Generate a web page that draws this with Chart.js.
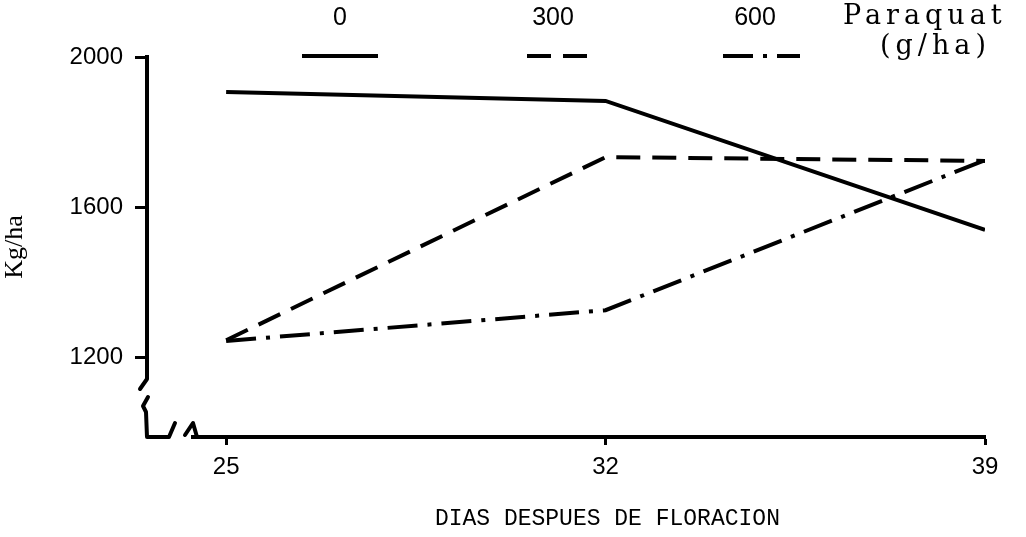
<!DOCTYPE html>
<html>
<head>
<meta charset="utf-8">
<script src="https://cdn.jsdelivr.net/npm/chart.js@4"></script>
<style>
  html, body { margin: 0; padding: 0; background: #fff; }
  #wrap { width: 1026px; height: 537px; }
</style>
</head>
<body>
<div id="wrap"><canvas id="graph"></canvas></div>
<script>
// days after flowering
const dias = [25, 32, 39];
// yield (kg/ha) per paraquat dose
const dose_0 = [1907, 1883, 1539];
const dose_300 = [1245, 1733, 1723];
const dose_600 = [1243, 1325, 1725];
const doseLabels = ["0", "300", "600"];
const yTicks = [1200, 1600, 2000];

const tickFont = { family: "Liberation Sans, sans-serif", size: 24 };
const xTitleFont = { family: "Liberation Mono, monospace", size: 23 };
const yTitleFont = { family: "Liberation Serif, serif", size: 26 };

function toXY(vals) {
    return vals.map((v, i) => ({ x: dias[i], y: v }));
}

// legend drawn above the plot: label on top, line sample below
const legendPlugin = {
    id: 'paraquatLegend',
    afterDraw(chart) {
        const ctx = chart.ctx;
        const items = [
            { cx: 340, x0: 302, x1: 378 },
            { cx: 553, x0: 527, x1: 595 },
            { cx: 755, x0: 723, x1: 800 }
        ];
        ctx.save();
        ctx.fillStyle = "#000";
        ctx.textAlign = "center";
        ctx.textBaseline = "middle";
        items.forEach((it, i) => {
            const ds = chart.data.datasets[i];
            ctx.font = "25px " + tickFont.family;
            ctx.fillText(doseLabels[i], it.cx, 18);
            ctx.strokeStyle = "#000";
            ctx.lineWidth = 4;
            ctx.setLineDash(ds.borderDash || []);
            ctx.beginPath();
            ctx.moveTo(it.x0, 56);
            ctx.lineTo(it.x1, 56);
            ctx.stroke();
        });
        ctx.setLineDash([]);
        ctx.font = "27px DejaVu Serif, serif";
        ctx.letterSpacing = "5px";
        ctx.textAlign = "left";
        ctx.fillText("Paraquat", 843, 17);
        ctx.fillText("(g/ha)", 880, 47);
        ctx.restore();
    }
};

// axis break at the lower left corner
const breakPlugin = {
    id: 'axisBreak',
    afterDraw(chart) {
        const ctx = chart.ctx;
        const l = chart.chartArea.left;
        const b = chart.chartArea.bottom;
        ctx.save();
        ctx.fillStyle = "#fff";
        ctx.fillRect(l - 8, b - 60, 52, 67);
        ctx.strokeStyle = "#000";
        ctx.lineWidth = 4;
        ctx.lineCap = "round";
        ctx.lineJoin = "round";
        ctx.beginPath();
        ctx.moveTo(l, b - 62);
        ctx.lineTo(l, b - 58);
        ctx.lineTo(l - 7, b - 48);
        ctx.stroke();
        ctx.beginPath();
        ctx.moveTo(l + 1, b - 40);
        ctx.lineTo(l - 4, b - 31);
        ctx.lineTo(l - 1, b - 25);
        ctx.lineTo(l, b);
        ctx.lineTo(l + 22, b);
        ctx.lineTo(l + 28, b - 14);
        ctx.stroke();
        ctx.beginPath();
        ctx.moveTo(l + 38, b - 2);
        ctx.lineTo(l + 46, b - 14);
        ctx.lineTo(l + 50, b);
        ctx.lineTo(l + 80, b);
        ctx.stroke();
        ctx.restore();
    }
};

const graph_context = document.getElementById('graph').getContext('2d');
const graph = new Chart(graph_context, {
    type: 'scatter',
    data: {
        datasets: [{
            label: "0",
            data: toXY(dose_0),
            borderColor: "#000",
            borderWidth: 4,
            showLine: true,
            pointRadius: 0
        },
        {
            label: "300",
            data: toXY(dose_300),
            borderColor: "#000",
            borderWidth: 4,
            borderDash: [24, 12],
            showLine: true,
            pointRadius: 0
        },
        {
            label: "600",
            data: toXY(dose_600),
            borderColor: "#000",
            borderWidth: 4,
            borderDash: [30, 10, 4, 10],
            showLine: true,
            pointRadius: 0
        }]
    },
    options: {
        responsive: true,
        maintainAspectRatio: false,
        animation: false,
        layout: {
            padding: { top: 57, right: 41, left: 0, bottom: 0 }
        },
        scales: {
            x: {
                type: 'linear',
                min: 23.54,
                max: 39,
                afterBuildTicks: (scale) => { scale.ticks = dias.map(v => ({ value: v })); },
                afterFit: (scale) => { scale.height = 100; },
                title: {
                    display: true,
                    text: "      DIAS DESPUES DE FLORACION",
                    font: xTitleFont,
                    color: "#000",
                    padding: { top: 0, bottom: 4 }
                },
                grid: {
                    drawOnChartArea: false,
                    drawTicks: true,
                    tickLength: 8,
                    tickWidth: 3,
                    tickColor: "#000"
                },
                border: { display: true, color: "#000", width: 4 },
                ticks: {
                    color: "#000",
                    font: tickFont,
                    padding: 8,
                    autoSkip: false,
                    maxRotation: 0,
                    callback: (v) => String(v)
                }
            },
            y: {
                min: 987,
                max: 2000,
                afterBuildTicks: (scale) => { scale.ticks = yTicks.map(v => ({ value: v })); },
                afterFit: (scale) => { scale.width = 147; },
                title: {
                    display: true,
                    text: "Kg/ha",
                    font: yTitleFont,
                    color: "#000",
                    padding: { top: 0, bottom: 0 }
                },
                grid: {
                    drawOnChartArea: false,
                    drawTicks: true,
                    tickLength: 12,
                    tickWidth: 3,
                    tickColor: "#000"
                },
                border: { display: true, color: "#000", width: 4 },
                ticks: {
                    color: "#000",
                    font: tickFont,
                    padding: 12,
                    callback: (v) => String(v)
                }
            }
        },
        plugins: {
            legend: { display: false },
            tooltip: { enabled: false }
        }
    },
    plugins: [legendPlugin, breakPlugin]
});
</script>
</body>
</html>
